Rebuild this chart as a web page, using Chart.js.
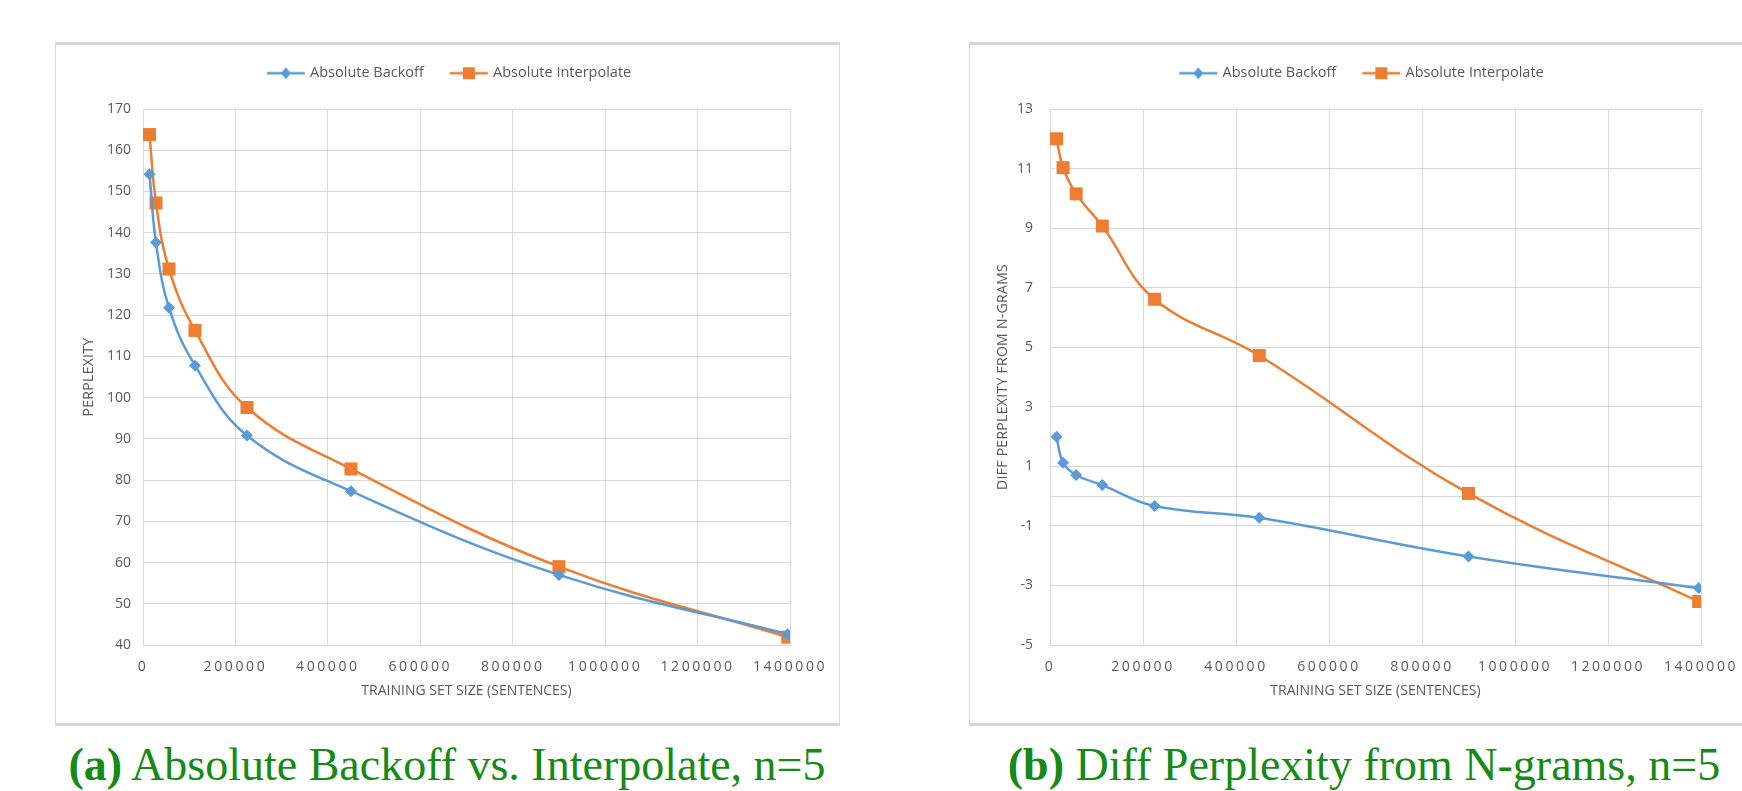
<!DOCTYPE html>
<html>
<head>
<meta charset="utf-8">
<title>Absolute Backoff vs. Interpolate</title>
<script src="https://cdn.jsdelivr.net/npm/chart.js@4/dist/chart.umd.min.js"></script>
<style>
  html, body { margin: 0; padding: 0; background: #fff; }
  body { width: 1742px; height: 791px; position: relative; overflow: hidden; }
  .panel { position: absolute; box-sizing: border-box; border: 1px solid #d9d9d9; border-top: 3px solid #d6d6d6; border-bottom: 3px solid #d6d6d6; }
  canvas { position: absolute; }
  .caption { position: absolute; width: 900px; text-align: center; font-family: "Liberation Serif", "DejaVu Serif", serif; font-size: 46px; color: #158a15; white-space: nowrap; line-height: 1; }
  .caption b { font-weight: bold; }
</style>
</head>
<body>
<div class="panel" style="left:55px; top:42px; width:785px; height:684px;"></div>
<div class="panel" style="left:969px; top:42px; width:790px; height:684px;"></div>
<canvas id="chartA" width="783" height="680" style="left:56px; top:44px;"></canvas>
<canvas id="chartB" width="783" height="680" style="left:970px; top:44px;"></canvas>
<div class="caption" style="left:-3px; top:742px;"><b>(a)</b> Absolute Backoff vs. Interpolate, n=5</div>
<div class="caption" style="left:914px; top:742px;"><b>(b)</b> Diff Perplexity from N-grams, n=5</div>
<script>
// training set sizes (sentences)
const trainSizes = [14063, 28125, 56250, 112500, 225000, 450000, 900000, 1395000];

// (a) perplexity
const backoffPerplexity = [154.2, 137.6, 121.8, 107.8, 90.8, 77.3, 57.0, 42.6];
const interpPerplexity  = [163.8, 147.2, 131.2, 116.3, 97.6, 82.7, 59.0, 41.9];

// (b) diff perplexity from n-grams
const backoffDiff = [1.99, 1.12, 0.71, 0.37, -0.33, -0.73, -2.03, -3.09];
const interpDiff  = [12.0, 11.03, 10.15, 9.07, 6.61, 4.72, 0.09, -3.54];

const seriesNames = ['Absolute Backoff', 'Absolute Interpolate'];
const BLUE = '#5b9bd5';
const ORANGE = '#ed7d31';
const GRID = '#d9d9d9';
const TEXT = '#595959';
const FONT = '"Open Sans", "Liberation Sans", sans-serif';

// small legend icon: line with marker, like Excel
function legendIcon(color, shape) {
    const c = document.createElement('canvas');
    c.width = 48; c.height = 16;
    const ctx = c.getContext('2d');
    ctx.strokeStyle = color;
    ctx.lineWidth = 2.5;
    ctx.beginPath();
    ctx.moveTo(8, 8);
    ctx.lineTo(46, 8);
    ctx.stroke();
    ctx.fillStyle = color;
    const cx = 27;
    if (shape === 'diamond') {
        ctx.beginPath();
        ctx.moveTo(cx, 2); ctx.lineTo(cx + 5, 8); ctx.lineTo(cx, 14); ctx.lineTo(cx - 5, 8);
        ctx.closePath();
        ctx.fill();
    } else {
        ctx.fillRect(cx - 6, 2, 12, 12);
    }
    return c;
}

// excel spreads some axis text out, canvas letterSpacing does the same
function spaced(scale, method, spacing) {
    const key = '_spaced_' + method;
    if (scale[key]) return;
    const orig = scale[method];
    scale[method] = function (...args) {
        const prev = this.ctx.letterSpacing;
        this.ctx.letterSpacing = spacing;
        orig.apply(this, args);
        this.ctx.letterSpacing = prev;
    };
    scale[key] = true;
}

function pts(ys) {
    return trainSizes.map((x, i) => ({ x: x, y: ys[i] }));
}

function makeChart(id, cfg) {
    const shiftLegend = {
        id: 'shiftLegend',
        afterLayout(chart) {
            chart.legend.left += cfg.legendShift;
            chart.legend.right += cfg.legendShift;
        }
    };
    return new Chart(document.getElementById(id), {
        type: 'line',
        data: {
            datasets: [{
                label: seriesNames[0],
                data: pts(cfg.backoff),
                borderColor: BLUE,
                backgroundColor: BLUE,
                borderWidth: 2.5,
                tension: 0.4,
                pointStyle: 'rectRot',
                pointRadius: 6,
                pointBorderWidth: 0,
                icon: legendIcon(BLUE, 'diamond')
            }, {
                label: seriesNames[1],
                data: pts(cfg.interp),
                borderColor: ORANGE,
                backgroundColor: ORANGE,
                borderWidth: 2.5,
                tension: 0.4,
                pointStyle: 'rect',
                pointRadius: 9.2,
                pointBorderWidth: 0,
                icon: legendIcon(ORANGE, 'square')
            }]
        },
        options: {
            responsive: false,
            animation: false,
            devicePixelRatio: 1,
            layout: { padding: { left: 0, right: cfg.padRight, top: 0, bottom: 0 } },
            scales: {
                x: {
                    type: 'linear',
                    min: 0,
                    max: 1400000,
                    afterFit(scale) {
                        scale.height = 79;
                        spaced(scale, 'drawLabels', '2.6px');
                    },
                    ticks: {
                        stepSize: 200000,
                        color: TEXT,
                        padding: 13.6,
                        maxRotation: 0,
                        font: { family: FONT, size: 14 },
                        callback: v => String(v)
                    },
                    grid: { color: GRID, lineWidth: 1, drawTicks: false },
                    border: { color: GRID },
                    title: {
                        display: true,
                        text: 'TRAINING SET SIZE (SENTENCES)',
                        color: TEXT,
                        font: { family: FONT, size: 14 },
                        padding: { top: 0, bottom: 24.6 }
                    }
                },
                y: {
                    type: 'linear',
                    min: cfg.yMin,
                    max: cfg.yMax,
                    afterFit(scale) {
                        scale.width = cfg.yWidth;
                        spaced(scale, 'drawTitle', '0.3px');
                    },
                    afterBuildTicks(scale) {
                        if (cfg.zeroLine) {
                            scale.ticks.push({ value: 0 });
                            scale.ticks.sort((a, b) => a.value - b.value);
                        }
                    },
                    ticks: {
                        stepSize: cfg.yStep,
                        color: TEXT,
                        padding: cfg.yPad,
                        font: { family: FONT, size: 14 },
                        callback: v => (cfg.zeroLine && v === 0) ? '' : String(v)
                    },
                    grid: { color: GRID, lineWidth: 1, drawTicks: false },
                    border: { color: GRID },
                    title: {
                        display: true,
                        text: cfg.yTitle,
                        color: TEXT,
                        font: { family: FONT, size: 14 },
                        padding: { top: 24.6, bottom: 0 }
                    }
                }
            },
            plugins: {
                tooltip: { enabled: false },
                legend: {
                    position: 'top',
                    labels: {
                        usePointStyle: true,
                        pointStyleWidth: 40,
                        padding: 22,
                        color: TEXT,
                        font: { family: FONT, size: 14.5 },
                        generateLabels(chart) {
                            return chart.data.datasets.map((ds, i) => ({
                                text: ds.label,
                                fillStyle: ds.borderColor,
                                strokeStyle: ds.borderColor,
                                fontColor: TEXT,
                                lineWidth: 0,
                                pointStyle: ds.icon,
                                hidden: false,
                                datasetIndex: i
                            }));
                        }
                    }
                }
            }
        },
        plugins: [shiftLegend, {
            id: 'legendHeight',
            beforeInit(chart) {
                const fit = chart.legend.fit;
                chart.legend.fit = function () {
                    fit.call(this);
                    this.height = 65;
                };
            }
        }]
    });
}

makeChart('chartA', {
    backoff: backoffPerplexity,
    interp: interpPerplexity,
    yMin: 40, yMax: 170, yStep: 10,
    yTitle: 'PERPLEXITY',
    yWidth: 87, yPad: 12, padRight: 49,
    legendShift: 24,
    zeroLine: false
});

makeChart('chartB', {
    backoff: backoffDiff,
    interp: interpDiff,
    yMin: -5, yMax: 13, yStep: 2,
    yTitle: 'DIFF PERPLEXITY FROM N-GRAMS',
    yWidth: 80, yPad: 17, padRight: 52,
    legendShift: 24,
    zeroLine: true
});
</script>
</body>
</html>
